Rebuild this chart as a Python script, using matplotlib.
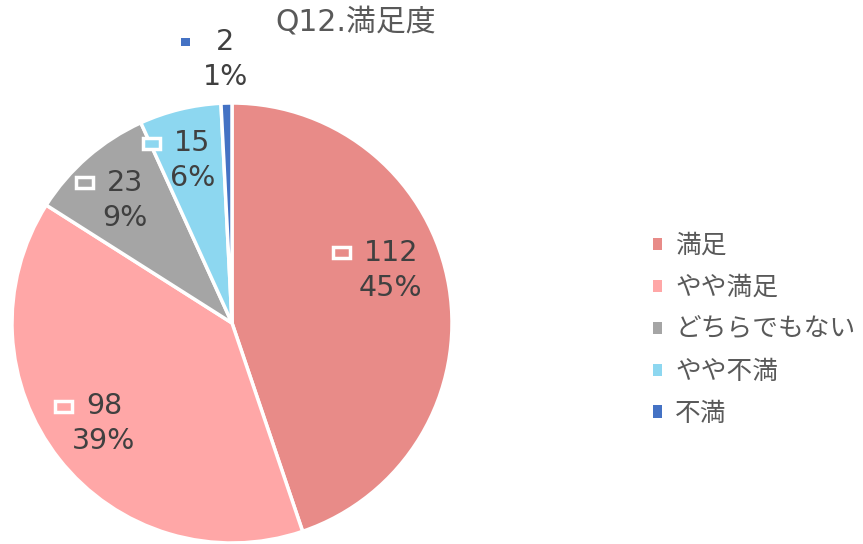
import numpy as np
import matplotlib
matplotlib.use("Agg")
import matplotlib.pyplot as plt
from matplotlib.patches import Rectangle, Patch
from matplotlib.transforms import ScaledTranslation

plt.rcParams["font.family"] = ["DejaVu Sans", "Noto Sans CJK JP"]

TITLE = "Q12.満足度"
categories = ["満足", "やや満足", "どちらでもない", "やや不満", "不満"]
counts = [112, 98, 23, 15, 2]
percents = [45, 39, 9, 6, 1]
colors = ["#E88B88", "#FFA7A7", "#A5A5A5", "#8DD7F0", "#4472C4"]

# label placement (radius as fraction of pie radius, angle shift in degrees)
label_r = [0.76, 0.74, 0.74, 0.76, 1.20]
label_shift = [9, 0, 0, 0, 0]
outside = [False, False, False, False, True]

W, H = 863, 544
fig = plt.figure(figsize=(W / 100, H / 100), dpi=100)
cx, cy, R = 232, 323, 220
ax = fig.add_axes([(cx - R) / W, (H - cy - R) / H, 2 * R / W, 2 * R / H])
ax.set_aspect("equal")

wedges, _ = ax.pie(counts, colors=colors, startangle=90, counterclock=False,
                   radius=1.0, wedgeprops=dict(edgecolor="white", linewidth=2.5))
ax.set_xlim(-1, 1)
ax.set_ylim(-1, 1)
ax.axis("off")

txt_color = "#404040"
for w, n, p, r, sh, out, col in zip(wedges, counts, percents, label_r, label_shift, outside, colors):
    mid = np.deg2rad((w.theta1 + w.theta2) / 2 + sh)
    x, y = r * np.cos(mid), r * np.sin(mid)
    ax.text(x, y, f"{n}\n{p}%", ha="center", va="center", fontsize=20.5,
            color=txt_color, linespacing=1.32, clip_on=False)
    # legend key to the left of the first line
    half = len(str(n)) * 0.09
    kw, kh = 0.17, 0.11
    tr = fig.dpi_scale_trans + ScaledTranslation(x, y, ax.transData)
    if out:
        key = Rectangle((-0.44, 0.13), 0.09, 0.085, facecolor=col,
                        edgecolor="none", transform=tr, clip_on=False)
    else:
        key = Rectangle((-half - 0.14 - kw, 0.175 - kh / 2), kw, kh, facecolor=col,
                        edgecolor="white", linewidth=2.5, transform=tr, clip_on=False)
    ax.add_patch(key)

fig.text(356 / W, 1 - 22 / H, TITLE, ha="center", va="center", fontsize=21.5, color="#595959")

handles = [Patch(facecolor=c, edgecolor="none") for c in colors]
fig.legend(handles, categories, loc="center left", bbox_to_anchor=(653 / W, 1 - 330 / H),
           frameon=False, fontsize=18.5, labelcolor="#595959", handlelength=0.36,
           handleheight=0.36, handletextpad=0.5, labelspacing=0.62,
           borderpad=0, borderaxespad=0)

fig.savefig("out.png", dpi=100)
